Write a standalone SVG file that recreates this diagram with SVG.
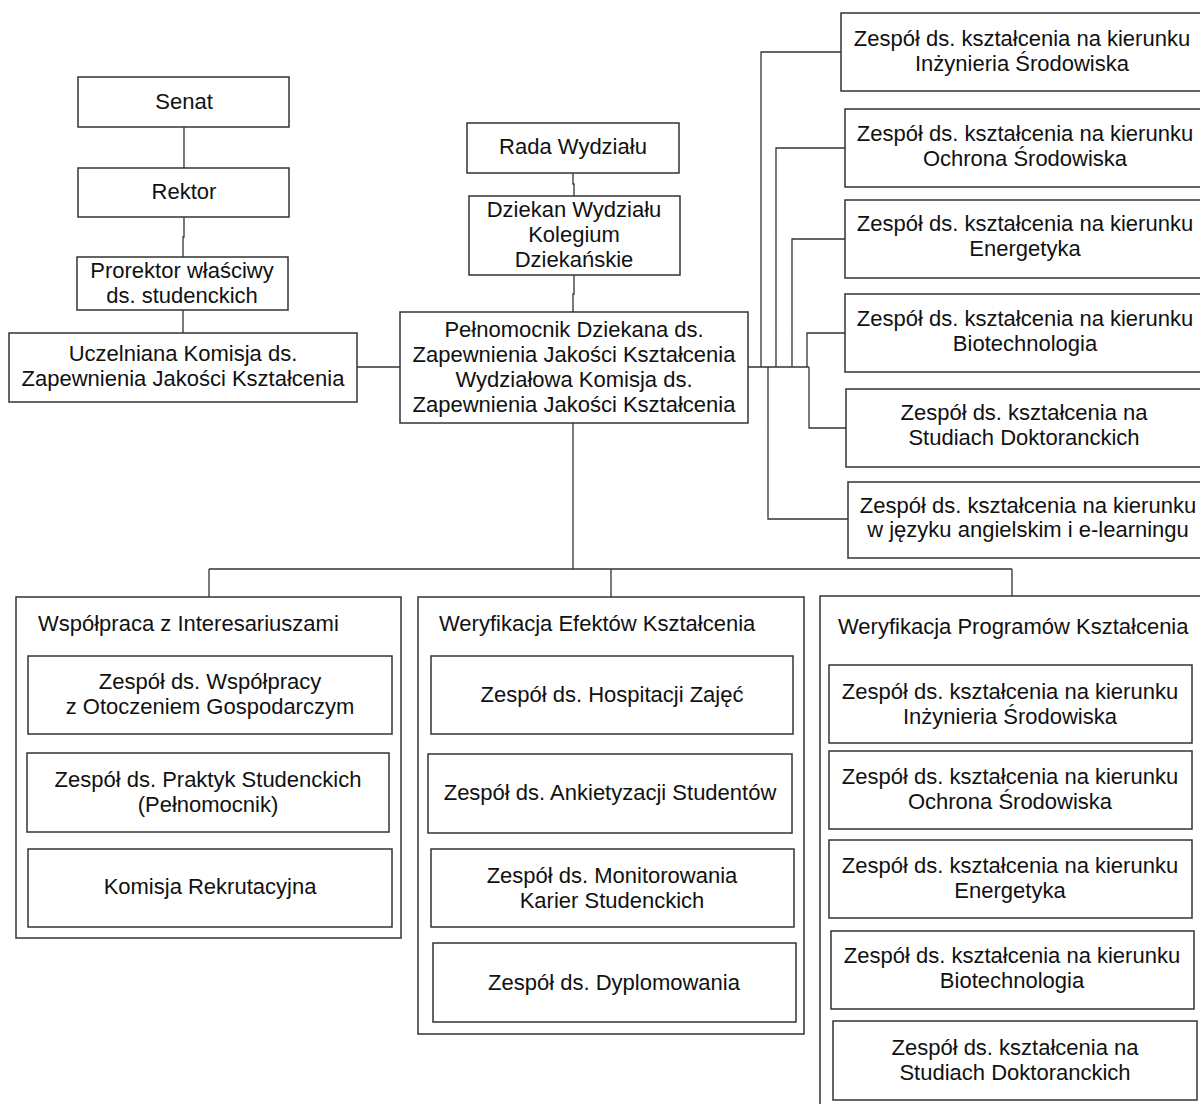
<svg xmlns="http://www.w3.org/2000/svg" width="1200" height="1104" viewBox="0 0 1200 1104">
<style>
.b{fill:#fff;stroke:#333;stroke-width:1.5}
.t{font-family:"Liberation Sans",Arial,sans-serif;font-size:22px;fill:#111;text-anchor:middle}
.l{font-family:"Liberation Sans",Arial,sans-serif;font-size:22px;fill:#111}
.c{fill:none;stroke:#333;stroke-width:1.3}
</style>
<rect width="1200" height="1104" fill="#fff"/>
<g id="connectors">
<path class="c" d="M184 127V168M184 217V237H183V257M183 310V333M357 367H400"/>
<path class="c" d="M573 173V184H574V196M574 275V294H573V312"/>
<path class="c" d="M748 367H809M761 367V52H841M776 367V148H845M792 367V239H845M807 367V333H845M809 367V428H846M768 367V519H848"/>
<path class="c" d="M573 423V569M209 569H1012M209 569V597M611 569V597M1012 569V596"/>
</g>
<g id="senat"><rect class="b" x="78" y="77" width="211" height="50"/><text class="t" x="184" y="109">Senat</text></g>
<g id="rektor"><rect class="b" x="78" y="168" width="211" height="49"/><text class="t" x="184" y="199">Rektor</text></g>
<g id="prorektor"><rect class="b" x="77" y="257" width="211" height="53"/><text class="t" x="182" y="278">Prorektor właściwy</text><text class="t" x="182" y="303">ds. studenckich</text></g>
<g id="uczelniana"><rect class="b" x="9" y="333" width="348" height="69"/><text class="t" x="183" y="361">Uczelniana Komisja ds.</text><text class="t" x="183" y="386">Zapewnienia Jakości Kształcenia</text></g>
<g id="rada"><rect class="b" x="467" y="123" width="212" height="50"/><text class="t" x="573" y="154">Rada Wydziału</text></g>
<g id="dziekan"><rect class="b" x="469" y="196" width="211" height="79"/><text class="t" x="574" y="217">Dziekan Wydziału</text><text class="t" x="574" y="242">Kolegium</text><text class="t" x="574" y="267">Dziekańskie</text></g>
<g id="pelnomocnik"><rect class="b" x="400" y="312" width="348" height="111"/><text class="t" x="574" y="337">Pełnomocnik Dziekana ds.</text><text class="t" x="574" y="362">Zapewnienia Jakości Kształcenia</text><text class="t" x="574" y="387">Wydziałowa Komisja ds.</text><text class="t" x="574" y="412">Zapewnienia Jakości Kształcenia</text></g>
<g id="r-inz"><rect class="b" x="841" y="13" width="365" height="78"/><text class="t" x="1022" y="46">Zespół ds. kształcenia na kierunku</text><text class="t" x="1022" y="71">Inżynieria Środowiska</text></g>
<g id="r-och"><rect class="b" x="845" y="109" width="362" height="78"/><text class="t" x="1025" y="141">Zespół ds. kształcenia na kierunku</text><text class="t" x="1025" y="166">Ochrona Środowiska</text></g>
<g id="r-ene"><rect class="b" x="845" y="200" width="362" height="78"/><text class="t" x="1025" y="231">Zespół ds. kształcenia na kierunku</text><text class="t" x="1025" y="256">Energetyka</text></g>
<g id="r-bio"><rect class="b" x="845" y="294" width="362" height="78"/><text class="t" x="1025" y="326">Zespół ds. kształcenia na kierunku</text><text class="t" x="1025" y="351">Biotechnologia</text></g>
<g id="r-dok"><rect class="b" x="846" y="389" width="362" height="78"/><text class="t" x="1024" y="420">Zespół ds. kształcenia na</text><text class="t" x="1024" y="445">Studiach Doktoranckich</text></g>
<g id="r-ang"><rect class="b" x="848" y="482" width="362" height="76"/><text class="t" x="1028" y="513">Zespół ds. kształcenia na kierunku</text><text class="t" x="1028" y="537">w języku angielskim i e-learningu</text></g>
<g id="wspolpraca"><rect class="b" x="16" y="597" width="385" height="341"/><text class="l" x="38" y="631">Współpraca z Interesariuszami</text>
<g id="w1"><rect class="b" x="28" y="656" width="364" height="78"/><text class="t" x="210" y="689">Zespół ds. Współpracy</text><text class="t" x="210" y="714">z Otoczeniem Gospodarczym</text></g>
<g id="w2"><rect class="b" x="27" y="753" width="362" height="79"/><text class="t" x="208" y="787">Zespół ds. Praktyk Studenckich</text><text class="t" x="208" y="812">(Pełnomocnik)</text></g>
<g id="w3"><rect class="b" x="28" y="849" width="364" height="78"/><text class="t" x="210" y="894">Komisja Rekrutacyjna</text></g>
</g>
<g id="efekty"><rect class="b" x="418" y="597" width="386" height="437"/><text class="l" x="439" y="631">Weryfikacja Efektów Kształcenia</text>
<g id="e1"><rect class="b" x="431" y="656" width="362" height="78"/><text class="t" x="612" y="702">Zespół ds. Hospitacji Zajęć</text></g>
<g id="e2"><rect class="b" x="428" y="754" width="364" height="79"/><text class="t" x="610" y="800">Zespół ds. Ankietyzacji Studentów</text></g>
<g id="e3"><rect class="b" x="431" y="849" width="363" height="78"/><text class="t" x="612" y="883">Zespół ds. Monitorowania</text><text class="t" x="612" y="908">Karier Studenckich</text></g>
<g id="e4"><rect class="b" x="433" y="943" width="363" height="79"/><text class="t" x="614" y="990">Zespół ds. Dyplomowania</text></g>
</g>
<g id="programy"><rect class="b" x="820" y="596" width="390" height="530"/><text class="l" x="838" y="634">Weryfikacja Programów Kształcenia</text>
<g id="p1"><rect class="b" x="829" y="665" width="363" height="78"/><text class="t" x="1010" y="699">Zespół ds. kształcenia na kierunku</text><text class="t" x="1010" y="724">Inżynieria Środowiska</text></g>
<g id="p2"><rect class="b" x="829" y="751" width="363" height="78"/><text class="t" x="1010" y="784">Zespół ds. kształcenia na kierunku</text><text class="t" x="1010" y="809">Ochrona Środowiska</text></g>
<g id="p3"><rect class="b" x="829" y="840" width="363" height="78"/><text class="t" x="1010" y="873">Zespół ds. kształcenia na kierunku</text><text class="t" x="1010" y="898">Energetyka</text></g>
<g id="p4"><rect class="b" x="831" y="931" width="363" height="78"/><text class="t" x="1012" y="963">Zespół ds. kształcenia na kierunku</text><text class="t" x="1012" y="988">Biotechnologia</text></g>
<g id="p5"><rect class="b" x="833" y="1021" width="364" height="79"/><text class="t" x="1015" y="1055">Zespół ds. kształcenia na</text><text class="t" x="1015" y="1080">Studiach Doktoranckich</text></g>
</g>
</svg>
